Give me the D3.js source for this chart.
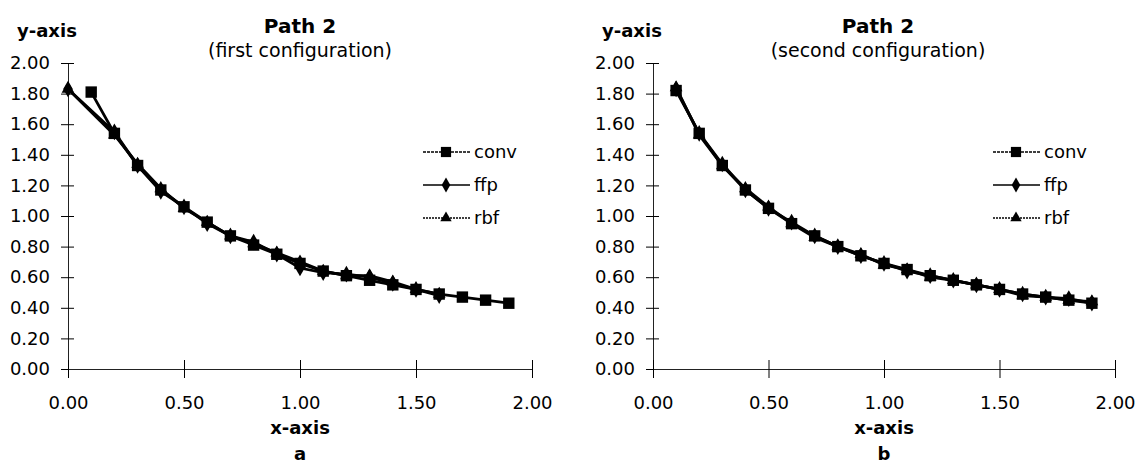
<!DOCTYPE html>
<html>
<head>
<meta charset="utf-8">
<script src="https://cdn.jsdelivr.net/npm/d3@7"></script>
<style>
  body { margin: 0; background: #fff; }
  svg text { font-family: "Comic Sans MS", "DejaVu Sans", sans-serif; fill: #000; }
</style>
</head>
<body>
<div id="my_dataviz"></div>
<script>
// x positions of the samples
var xConv = [0.1, 0.2, 0.3, 0.4, 0.5, 0.6, 0.7, 0.8, 0.9, 1.0, 1.1, 1.2, 1.3, 1.4, 1.5, 1.6, 1.7, 1.8, 1.9];
var xNet1 = [0.0, 0.2, 0.3, 0.4, 0.5, 0.6, 0.7, 0.8, 0.9, 1.0, 1.1, 1.2, 1.3, 1.4, 1.5, 1.6];
var xNet2 = [0.1, 0.2, 0.3, 0.4, 0.5, 0.6, 0.7, 0.8, 0.9, 1.0, 1.1, 1.2, 1.3, 1.4, 1.5, 1.6, 1.7, 1.8, 1.9];

// panel a (first configuration)
var conv1 = [1.81, 1.54, 1.33, 1.17, 1.06, 0.96, 0.87, 0.81, 0.75, 0.69, 0.64, 0.61, 0.58, 0.55, 0.52, 0.49, 0.47, 0.45, 0.43];
var ffp1  = [1.83, 1.55, 1.33, 1.16, 1.06, 0.95, 0.87, 0.83, 0.75, 0.66, 0.63, 0.62, 0.60, 0.56, 0.52, 0.48];
var rbf1  = [1.83, 1.53, 1.34, 1.18, 1.05, 0.96, 0.87, 0.82, 0.76, 0.70, 0.64, 0.61, 0.61, 0.57, 0.52, 0.49];

// panel b (second configuration)
var conv2 = [1.82, 1.54, 1.33, 1.17, 1.05, 0.95, 0.87, 0.80, 0.74, 0.69, 0.65, 0.61, 0.58, 0.55, 0.52, 0.49, 0.47, 0.45, 0.43];
var ffp2  = [1.83, 1.54, 1.34, 1.17, 1.05, 0.96, 0.87, 0.80, 0.74, 0.69, 0.64, 0.61, 0.58, 0.55, 0.52, 0.49, 0.47, 0.46, 0.43];
var rbf2  = [1.84, 1.53, 1.33, 1.18, 1.06, 0.95, 0.86, 0.80, 0.75, 0.68, 0.65, 0.60, 0.58, 0.55, 0.52, 0.48, 0.47, 0.45, 0.44];

var xTicks = [0, 0.5, 1.0, 1.5, 2.0];
var yTicks = [0, 0.2, 0.4, 0.6, 0.8, 1.0, 1.2, 1.4, 1.6, 1.8, 2.0];
var seriesNames = ["conv", "ffp", "rbf"];

var svg = d3.select("#my_dataviz")
  .append("svg")
  .attr("width", 1139)
  .attr("height", 467);

function zip(xs, ys) {
  return ys.map(function(v, i) { return {x: xs[i], y: v}; });
}

var panels = [
  {left: 68, right: 532, sub: "(first configuration)", letter: "a", titleX: 300, legX: 423,
   series: [zip(xConv, conv1), zip(xNet1, ffp1), zip(xNet1, rbf1)]},
  {left: 653, right: 1115, sub: "(second configuration)", letter: "b", titleX: 878, legX: 993,
   series: [zip(xConv, conv2), zip(xNet2, ffp2), zip(xNet2, rbf2)]}
];

var symbols = [d3.symbolSquare, d3.symbolDiamond, d3.symbolTriangle];
var symSize = [130, 80, 70];
var dashes = ["3,1", null, "2,1"];

panels.forEach(function(p) {
  var x = d3.scaleLinear().domain([0, 2]).range([p.left, p.right]);
  var y = d3.scaleLinear().domain([0, 2]).range([369, 63]);

  var g = svg.append("g");

  // y axis with crossing ticks
  var ya = g.append("g")
    .attr("transform", "translate(" + p.left + ",0)")
    .call(d3.axisLeft(y).tickValues(yTicks).tickSizeInner(7).tickSizeOuter(0).tickPadding(11)
      .tickFormat(d3.format(".2f")));
  ya.selectAll(".tick line").attr("x2", 6).attr("x1", -7);
  ya.select(".domain").attr("stroke", "#222");
  ya.selectAll("text").style("font-size", "18px").attr("fill", "#000");

  var xa = g.append("g")
    .attr("transform", "translate(0,369)")
    .call(d3.axisBottom(x).tickValues(xTicks).tickSizeInner(9).tickSizeOuter(0).tickPadding(18)
      .tickFormat(d3.format(".2f")));
  xa.selectAll(".tick line").attr("y1", -9).attr("y2", 9);
  xa.select(".domain").attr("stroke", "#222");
  xa.selectAll("text").style("font-size", "18px").attr("fill", "#000");

  g.append("text").attr("x", p.left - 51).attr("y", 37).style("font-size", "18px").style("font-weight", "bold")
    .text("y-axis");
  g.append("text").attr("x", p.titleX).attr("y", 33).attr("text-anchor", "middle")
    .style("font-size", "20px").style("font-weight", "bold").text("Path 2");
  g.append("text").attr("x", p.titleX).attr("y", 57).attr("text-anchor", "middle")
    .style("font-size", "19px").text(p.sub);
  g.append("text").attr("x", x(1)).attr("y", 434).attr("text-anchor", "middle")
    .style("font-size", "18px").style("font-weight", "bold").text("x-axis");
  g.append("text").attr("x", x(1)).attr("y", 460).attr("text-anchor", "middle")
    .style("font-size", "18px").style("font-weight", "bold").text(p.letter);

  var line = d3.line().x(function(d) { return x(d.x); }).y(function(d) { return y(d.y); });

  p.series.forEach(function(s, i) {
    g.append("path")
      .datum(s)
      .attr("fill", "none")
      .attr("stroke", "#000")
      .attr("stroke-width", 2.8)
      .attr("d", line);
    g.append("g").selectAll("path")
      .data(s)
      .enter()
      .append("path")
      .attr("transform", function(d) { return "translate(" + x(d.x) + "," + y(d.y) + ")"; })
      .attr("d", d3.symbol().type(symbols[i]).size(symSize[i]))
      .attr("fill", "#000");
  });

  // legend
  seriesNames.forEach(function(name, i) {
    var ly = 152 + i * 33;
    g.append("line").attr("x1", p.legX).attr("x2", p.legX + 47).attr("y1", ly).attr("y2", ly)
      .attr("stroke", "#000").attr("stroke-width", 1.5).attr("stroke-dasharray", dashes[i]);
    g.append("path")
      .attr("transform", "translate(" + (p.legX + 23) + "," + ly + ")")
      .attr("d", d3.symbol().type(symbols[i]).size(symSize[i] * 0.8))
      .attr("fill", "#000");
    g.append("text").attr("x", p.legX + 51).attr("y", ly + 6).style("font-size", "18px").text(name);
  });
});
</script>
</body>
</html>
